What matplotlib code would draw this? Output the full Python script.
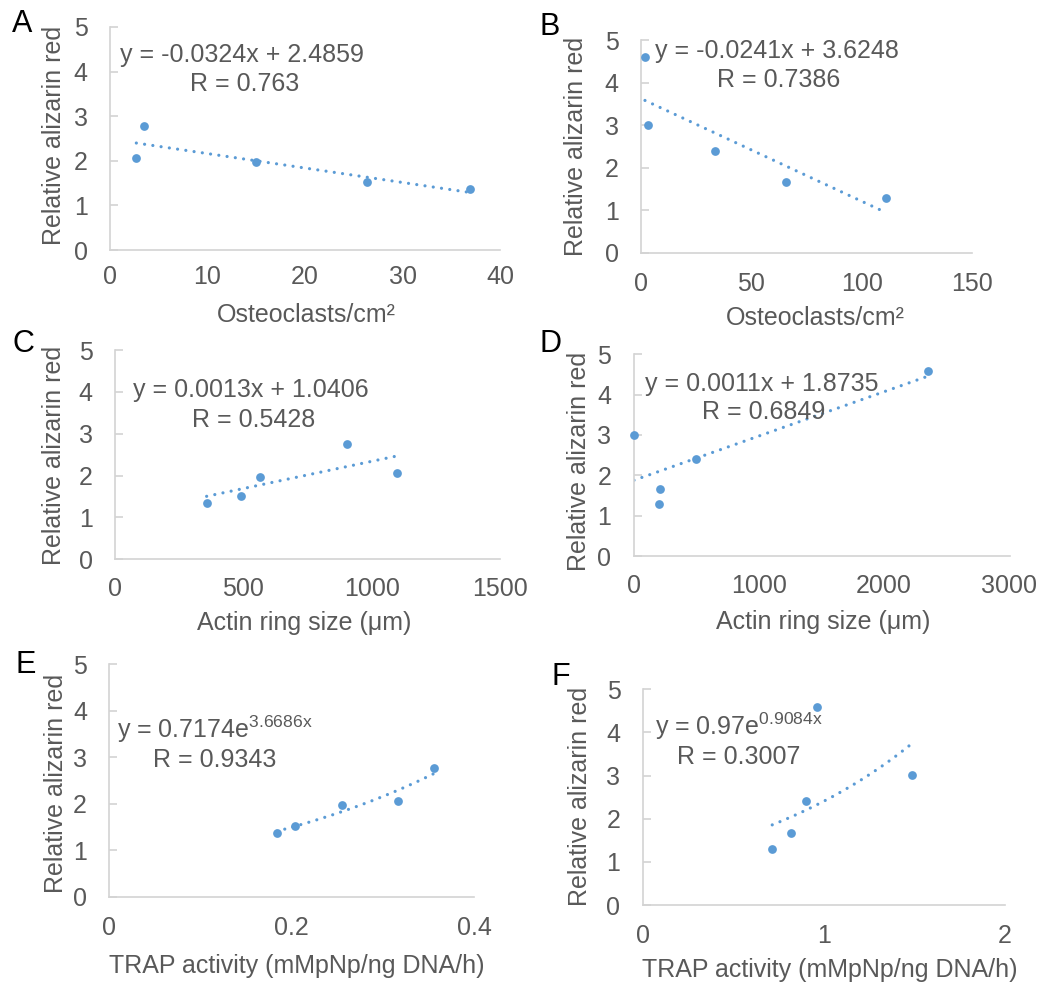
import numpy as np
import matplotlib
matplotlib.use("Agg")
import matplotlib.pyplot as plt

plt.rcParams['font.family'] = ['Liberation Sans', 'DejaVu Sans']
plt.rcParams['mathtext.fontset'] = 'custom'
plt.rcParams['mathtext.rm'] = 'Liberation Sans'
plt.rcParams['mathtext.it'] = 'Liberation Sans:italic'

# ---------------- data ----------------
A_x = [2.7, 3.5, 15.0, 26.4, 36.9]
A_y = [2.06, 2.77, 1.97, 1.52, 1.36]
B_x = [1.8, 3.0, 33.5, 65.6, 111.0]
B_y = [4.59, 3.00, 2.39, 1.66, 1.29]
C_x = [357, 490, 566, 905, 1099]
C_y = [1.35, 1.52, 1.97, 2.76, 2.05]
D_x = [4, 200, 211, 499, 2352]
D_y = [3.00, 1.30, 1.66, 2.40, 4.58]
E_x = [0.1836, 0.2037, 0.2556, 0.317, 0.3565]
E_y = [1.36, 1.53, 1.97, 2.06, 2.76]
F_x = [0.715, 0.817, 0.90, 0.96, 1.485]
F_y = [1.30, 1.67, 2.40, 4.60, 3.01]

# fitted trendline coefficients (as printed)
A_fit = ('lin', -0.0324, 2.4859)
B_fit = ('lin', -0.0241, 3.6248)
C_fit = ('lin', 0.0013, 1.0406)
D_fit = ('lin', 0.0011, 1.8735)
E_fit = ('exp', 0.7174, 3.6686)
F_fit = ('exp', 0.97, 0.9084)

A_eq = ['y = -0.0324x + 2.4859', 'R = 0.763']
B_eq = ['y = -0.0241x + 3.6248', 'R = 0.7386']
C_eq = ['y = 0.0013x + 1.0406', 'R = 0.5428']
D_eq = ['y = 0.0011x + 1.8735', 'R = 0.6849']
E_eq = [r'y = 0.7174e$^{\mathregular{3.6686x}}$', 'R = 0.9343']
F_eq = [r'y = 0.97e$^{\mathregular{0.9084x}}$', 'R = 0.3007']

A_xticks = [0, 10, 20, 30, 40]
B_xticks = [0, 50, 100, 150]
C_xticks = [0, 500, 1000, 1500]
D_xticks = [0, 1000, 2000, 3000]
E_xticks = [0, 0.2, 0.4]
E_xticklabels = ['0', '0.2', '0.4']
F_xticks = [0, 1, 2]
y_ticks = [0, 1, 2, 3, 4, 5]

xlab_osteo = 'Osteoclasts/cm²'
xlab_actin = 'Actin ring size (μm)'
xlab_trap = 'TRAP activity (mMpNp/ng DNA/h)'
ylab = 'Relative alizarin red'

# ---------------- layout (pixels) ----------------
W, H = 1047, 988
fig = plt.figure(figsize=(W / 100, H / 100), dpi=100)

def fx(px):
    return px / W

def fy(py):
    return 1 - py / H

GRAY = '#595959'
SPINE = '#D3D3D3'
BLUE = '#5B9BD5'
FS = 18

panels = [
    # letter, rect(l, r, t, b), x, y, fit, eq, xticks, xticklabels, xlab,
    # letter pos, eq pos (x1,y1,x2,y2), xlabel pos, ylabel pos, xpad
    dict(letter='A', rect=(110, 500, 27, 250), x=A_x, y=A_y, fit=A_fit, eq=A_eq,
         xticks=A_xticks, xtl=None, xlab=xlab_osteo, lp=(12, 32),
         eqp=(120, 61.7, 190, 90.7), xlp=(306, 321.7), ylp=(61, 135), xpad=11),
    dict(letter='B', rect=(641, 972, 40, 253), x=B_x, y=B_y, fit=B_fit, eq=B_eq,
         xticks=B_xticks, xtl=None, xlab=xlab_osteo, lp=(540, 35),
         eqp=(655, 58.3, 717, 87.3), xlp=(815, 325), ylp=(582.7, 146), xpad=14),
    dict(letter='C', rect=(115, 500, 350, 559.3), x=C_x, y=C_y, fit=C_fit, eq=C_eq,
         xticks=C_xticks, xtl=None, xlab=xlab_actin, lp=(12, 352),
         eqp=(133.3, 397.3, 191.7, 426.7), xlp=(304, 630), ylp=(61, 455), xpad=13),
    dict(letter='D', rect=(633.5, 1009.5, 354.3, 556), x=D_x, y=D_y, fit=D_fit, eq=D_eq,
         xticks=D_xticks, xtl=None, xlab=xlab_actin, lp=(540, 352),
         eqp=(645, 390.7, 701.7, 419.3), xlp=(822.7, 629.3), ylp=(586, 461.3), xpad=13),
    dict(letter='E', rect=(109.3, 474, 664.3, 896.7), x=E_x, y=E_y, fit=E_fit, eq=E_eq,
         xticks=E_xticks, xtl=E_xticklabels, xlab=xlab_trap, lp=(15, 673),
         eqp=(116.7, 738.3, 152.7, 767.3), xlp=(296.7, 973.3), ylp=(63.3, 783), xpad=14),
    dict(letter='F', rect=(642.7, 1005, 689.3, 905), x=F_x, y=F_y, fit=F_fit, eq=F_eq,
         xticks=F_xticks, xtl=None, xlab=xlab_trap, lp=(552, 685),
         eqp=(655, 735, 676.7, 764), xlp=(830, 976.7), ylp=(586.7, 796), xpad=14),
]

for p in panels:
    l, r, t, b = p['rect']
    ax = fig.add_axes([fx(l), fy(b), (r - l) / W, (b - t) / H])
    xt = p['xticks']
    ax.set_xlim(xt[0], xt[-1])
    ax.set_ylim(0, 5)
    ax.set_xticks(xt)
    if p['xtl'] is not None:
        ax.set_xticklabels(p['xtl'])
    ax.set_yticks(y_ticks)
    for s in ['top', 'right']:
        ax.spines[s].set_visible(False)
    for s in ['left', 'bottom']:
        ax.spines[s].set_color(SPINE)
        ax.spines[s].set_linewidth(1.2)
    ax.tick_params(axis='y', direction='in', length=5.5, width=1.2, color=SPINE,
                   labelsize=FS, labelcolor=GRAY, pad=16)
    ax.tick_params(axis='x', length=0, labelsize=FS, labelcolor=GRAY, pad=p['xpad'])
    ax.patch.set_alpha(0)

    # trendline
    kind, a, c = p['fit']
    xs = np.linspace(min(p['x']), max(p['x']), 200)
    if kind == 'lin':
        ys = a * xs + c
    else:
        ys = a * np.exp(c * xs)
    ax.plot(xs, ys, color=BLUE, lw=2.3, linestyle=(0, (0.01, 2.6)),
            dash_capstyle='round', zorder=2)
    ax.plot(p['x'], p['y'], 'o', color=BLUE, markersize=6.3, zorder=3,
            markeredgewidth=0, clip_on=False)

    # labels
    ax.set_xlabel(p['xlab'], fontsize=FS, color=GRAY, va='baseline', ha='center')
    ax.xaxis.set_label_coords(fx(p['xlp'][0]), fy(p['xlp'][1]), transform=fig.transFigure)
    ax.set_ylabel(ylab, fontsize=FS, color=GRAY, va='baseline', ha='center',
                  rotation=90, rotation_mode='anchor')
    ax.yaxis.set_label_coords(fx(p['ylp'][0]), fy(p['ylp'][1]), transform=fig.transFigure)

    # equation texts
    x1, y1, x2, y2 = p['eqp']
    fig.text(fx(x1), fy(y1), p['eq'][0], fontsize=FS, color=GRAY, ha='left', va='baseline')
    fig.text(fx(x2), fy(y2), p['eq'][1], fontsize=FS, color=GRAY, ha='left', va='baseline')

    # panel letter
    fig.text(fx(p['lp'][0]), fy(p['lp'][1]), p['letter'], fontsize=22, color='black',
             ha='left', va='baseline')

fig.savefig('out.png', dpi=100)
